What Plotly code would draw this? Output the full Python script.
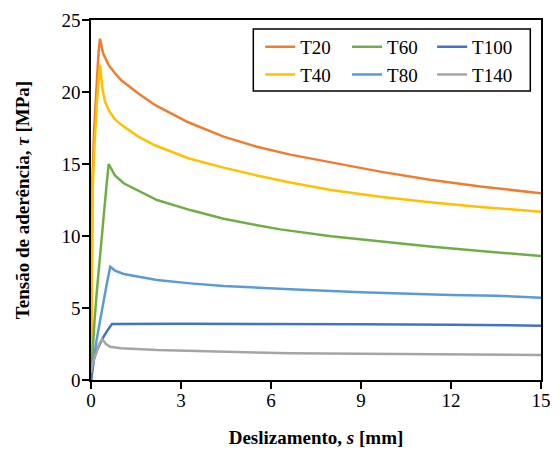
import plotly.graph_objects as go

# ---- data ----
s_T20 = [0, 0.02, 0.05, 0.1, 0.15, 0.2, 0.25, 0.3, 0.4, 0.58, 0.8, 1.02, 1.58, 2.13, 3.24, 4.42, 5.53, 6.64, 8.0, 9.64, 11.3, 12.98, 15]
t_T20 = [0, 10.6, 14.0, 17.2, 19.4, 21.2, 22.7, 23.7, 22.7, 21.9, 21.3, 20.8, 19.9, 19.1, 17.9, 16.9, 16.2, 15.65, 15.1, 14.47, 13.9, 13.43, 12.97]

s_T40 = [0, 0.02, 0.05, 0.1, 0.15, 0.2, 0.25, 0.3, 0.38, 0.47, 0.6, 0.8, 1.02, 1.58, 2.13, 3.24, 4.42, 5.53, 6.64, 8.0, 9.64, 11.3, 12.98, 15]
t_T40 = [0, 9.7, 12.8, 15.7, 17.8, 19.4, 20.7, 21.9, 20.2, 19.3, 18.7, 18.1, 17.7, 16.9, 16.3, 15.4, 14.75, 14.2, 13.72, 13.2, 12.73, 12.35, 12.02, 11.69]

s_T60 = [0, 0.05, 0.12, 0.2, 0.29, 0.4, 0.51, 0.59, 0.8, 1.09, 2.2, 3.31, 4.42, 5.53, 6.31, 8.0, 9.64, 11.3, 12.98, 15]
t_T60 = [0, 2.1, 4.2, 6.3, 8.5, 11.0, 13.35, 15.0, 14.2, 13.66, 12.5, 11.8, 11.2, 10.75, 10.46, 9.98, 9.61, 9.27, 8.96, 8.61]

s_T80 = [0, 0.07, 0.18, 0.3, 0.4, 0.52, 0.64, 0.8, 1.09, 2.2, 3.31, 4.42, 6.64, 9.0, 12.0, 13.5, 15]
t_T80 = [0, 1.2, 2.7, 4.1, 5.3, 6.6, 7.87, 7.6, 7.36, 6.94, 6.71, 6.53, 6.3, 6.1, 5.9, 5.85, 5.72]

s_T100 = [0, 0.09, 0.2, 0.3, 0.42, 0.55, 0.7, 3.0, 6.0, 9.0, 12.0, 15]
t_T100 = [0, 1.39, 2.08, 2.55, 3.01, 3.45, 3.89, 3.9, 3.9, 3.88, 3.84, 3.77]

s_T140 = [0, 0.05, 0.12, 0.2, 0.28, 0.37, 0.5, 0.64, 1.0, 2.2, 4.42, 6.64, 9.0, 12.0, 15]
t_T140 = [0.5, 1.1, 1.6, 2.1, 2.5, 2.85, 2.5, 2.31, 2.2, 2.08, 1.97, 1.85, 1.82, 1.78, 1.74]

x_ticks = [0, 3, 6, 9, 12, 15]
y_ticks = [0, 5, 10, 15, 20, 25]

series = [
    ("T20", s_T20, t_T20, "#ED7D31", "legend"),
    ("T40", s_T40, t_T40, "#FFC000", "legend"),
    ("T60", s_T60, t_T60, "#70AD47", "legend2"),
    ("T80", s_T80, t_T80, "#5B9BD5", "legend2"),
    ("T100", s_T100, t_T100, "#4472C4", "legend3"),
    ("T140", s_T140, t_T140, "#A5A5A5", "legend3"),
]

FONT = "Liberation Serif, Times New Roman, Tinos, serif"

fig = go.Figure()
for name, xs, ys, col, leg in series:
    fig.add_trace(go.Scatter(x=xs, y=ys, mode="lines", name=name,
                             line=dict(color=col, width=2.5),
                             legend=leg))

leg_common = dict(orientation="v", yanchor="top", xanchor="left", y=0.978,
                  bgcolor="rgba(0,0,0,0)", borderwidth=0,
                  font=dict(family=FONT, size=19, color="black"),
                  tracegroupgap=0, itemwidth=30)

# the page body adds an 8px offset at top/left, so the figure is 8px smaller
fig.update_layout(
    width=552, height=446,
    margin=dict(l=83, r=19, t=12, b=74, autoexpand=False),
    paper_bgcolor="white", plot_bgcolor="white",
    font=dict(family=FONT, size=19, color="black"),
    showlegend=True,
    legend=dict(x=0.376, **leg_common),
    legend2=dict(x=0.569, **leg_common),
    legend3=dict(x=0.758, **leg_common),
    xaxis=dict(range=[0, 15], tickvals=x_ticks, ticktext=[str(v) for v in x_ticks],
               showline=True, linecolor="black", linewidth=1.5, mirror=True,
               ticks="outside", ticklen=7, tickwidth=1.5, tickcolor="black",
               showgrid=False, zeroline=False, automargin=False,
               ticklabelstandoff=-5,
               tickfont=dict(family=FONT, size=19, color="black"),
               title=dict(text="<b>Deslizamento, <i>s</i> [mm]</b>",
                          font=dict(family=FONT, size=19, color="black"), standoff=21)),
    yaxis=dict(range=[0, 25], tickvals=y_ticks, ticktext=[str(v) for v in y_ticks],
               showline=True, linecolor="black", linewidth=1.5, mirror=True,
               ticks="outside", ticklen=7, tickwidth=1.5, tickcolor="black",
               showgrid=False, zeroline=False, automargin=False,
               ticklabelstandoff=-2,
               tickfont=dict(family=FONT, size=19, color="black"),
               title=dict(text="<b>Tensão de aderência, <i>τ</i> [MPa]</b>",
                          font=dict(family=FONT, size=19, color="black"), standoff=27)),
    shapes=[dict(type="rect", xref="paper", yref="paper",
                 x0=0.3607, x1=0.9762, y0=0.8028, y1=0.975,
                 line=dict(color="black", width=1.5), fillcolor="white", layer="above")],
)

fig.write_html("out.html")
